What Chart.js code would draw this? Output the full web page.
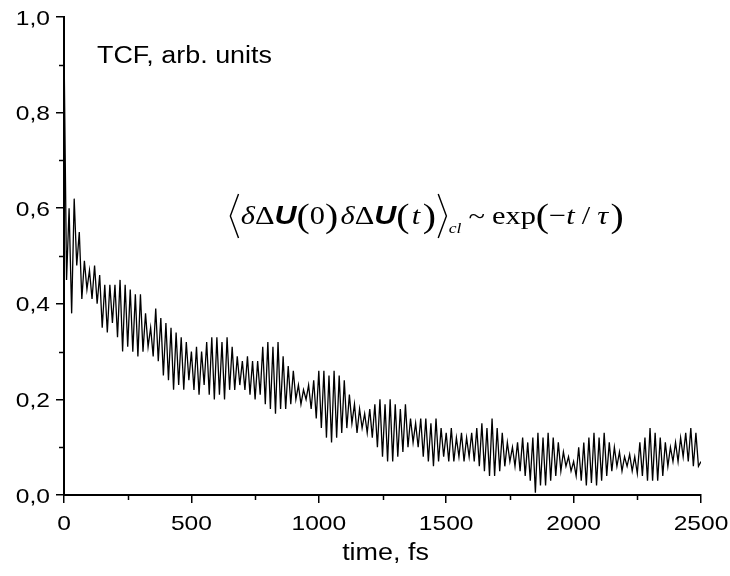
<!DOCTYPE html>
<html>
<head>
<meta charset="utf-8">
<script src="https://cdn.jsdelivr.net/npm/chart.js@4"></script>
<style>
  body { margin: 0; background: #fff; }
  #wrap { width: 730px; height: 576px; }
</style>
</head>
<body>
<div id="wrap"><canvas id="tcfChart" width="730" height="576"></canvas></div>
<script>
const timeStep = 10;
const tcf = [
    0.94, 0.45, 0.60, 0.38, 0.62, 0.48, 0.55, 0.41, 0.49, 0.43,
    0.47, 0.41, 0.48, 0.40, 0.46, 0.35, 0.44, 0.34, 0.44, 0.36,
    0.44, 0.33, 0.45, 0.30, 0.44, 0.31, 0.43, 0.30, 0.42, 0.29,
    0.42, 0.30, 0.38, 0.31, 0.35, 0.29, 0.39, 0.28, 0.37, 0.25,
    0.36, 0.24, 0.35, 0.22, 0.34, 0.23, 0.33, 0.22, 0.32, 0.24,
    0.30, 0.22, 0.31, 0.21, 0.30, 0.23, 0.32, 0.21, 0.33, 0.20,
    0.33, 0.21, 0.32, 0.20, 0.33, 0.22, 0.31, 0.22, 0.29, 0.23,
    0.28, 0.22, 0.29, 0.21, 0.28, 0.20, 0.28, 0.21, 0.31, 0.19,
    0.32, 0.18, 0.31, 0.17, 0.32, 0.18, 0.29, 0.18, 0.27, 0.19,
    0.26, 0.20, 0.23, 0.19, 0.22, 0.20, 0.23, 0.18, 0.24, 0.16,
    0.26, 0.14, 0.26, 0.12, 0.25, 0.11, 0.26, 0.12, 0.25, 0.13,
    0.24, 0.14, 0.21, 0.15, 0.19, 0.13, 0.18, 0.14, 0.17, 0.13,
    0.18, 0.12, 0.19, 0.10, 0.20, 0.08, 0.19, 0.07, 0.20, 0.07,
    0.19, 0.08, 0.18, 0.09, 0.19, 0.10, 0.16, 0.11, 0.15, 0.10,
    0.16, 0.08, 0.16, 0.07, 0.15, 0.06, 0.16, 0.07, 0.14, 0.08,
    0.13, 0.07, 0.14, 0.07, 0.12, 0.08, 0.13, 0.07, 0.12, 0.08,
    0.13, 0.07, 0.14, 0.06, 0.15, 0.05, 0.14, 0.04, 0.16, 0.04,
    0.14, 0.05, 0.13, 0.06, 0.11, 0.07, 0.10, 0.06, 0.11, 0.05,
    0.12, 0.04, 0.11, 0.03, 0.12, 0.005, 0.13, 0.02, 0.12, 0.02,
    0.13, 0.03, 0.12, 0.04, 0.11, 0.05, 0.09, 0.06, 0.08, 0.05,
    0.07, 0.04, 0.10, 0.03, 0.11, 0.02, 0.12, 0.025, 0.13, 0.02,
    0.12, 0.03, 0.13, 0.04, 0.11, 0.05, 0.10, 0.06, 0.09, 0.05,
    0.08, 0.06, 0.085, 0.05, 0.08, 0.045, 0.11, 0.04, 0.12, 0.03,
    0.14, 0.03, 0.13, 0.03, 0.12, 0.04, 0.11, 0.06, 0.10, 0.07,
    0.11, 0.07, 0.12, 0.08, 0.13, 0.07, 0.14, 0.06, 0.13, 0.06,
    0.07
];
const times = tcf.map((_, i) => i * timeStep);
const xTickLabels = [0, 500, 1000, 1500, 2000, 2500];
const yTickValues = [0, 0.2, 0.4, 0.6, 0.8, 1.0];
const yTickLabels = ['0,0', '0,2', '0,4', '0,6', '0,8', '1,0'];

const sans = 'Arial, "Liberation Sans", sans-serif';
const serif = '"Times New Roman", "Liberation Serif", serif';
const stretch = 1.17; // the original lettering is a bit wide

function isMajorX(v) { return xTickLabels.includes(Math.round(v)); }
function isMajorY(v) { return Math.round(v * 10) % 2 === 0; }

function wideText(ctx, text, x, y, align, font) {
    ctx.save();
    ctx.font = font;
    ctx.textAlign = align;
    ctx.translate(x, y);
    ctx.scale(stretch, 1);
    ctx.fillText(text, 0, 0);
    ctx.restore();
}

// minor ticks are shorter than the major ones
const minorTicks = {
    id: 'minorTicks',
    afterDraw(chart) {
        const ctx = chart.ctx;
        const xs = chart.scales.x, ys = chart.scales.y;
        ctx.save();
        ctx.strokeStyle = '#000';
        ctx.lineWidth = 1.5;
        for (let v = 250; v < 2500; v += 500) {
            const px = Math.round(xs.getPixelForValue(v)) + 0.5;
            ctx.beginPath();
            ctx.moveTo(px, ys.bottom);
            ctx.lineTo(px, ys.bottom + 5);
            ctx.stroke();
        }
        for (let v = 0.1; v < 1; v += 0.2) {
            const py = Math.round(ys.getPixelForValue(v)) + 0.5;
            ctx.beginPath();
            ctx.moveTo(xs.left, py);
            ctx.lineTo(xs.left - 5, py);
            ctx.stroke();
        }
        ctx.restore();
    }
};

// tick labels and axis title
const axisText = {
    id: 'axisText',
    afterDraw(chart) {
        const ctx = chart.ctx;
        const xs = chart.scales.x, ys = chart.scales.y;
        ctx.save();
        ctx.fillStyle = '#000';
        ctx.textBaseline = 'alphabetic';
        const tickFont = `21px ${sans}`;
        xTickLabels.forEach(v => {
            wideText(ctx, String(v), xs.getPixelForValue(v), ys.bottom + 35, 'center', tickFont);
        });
        yTickValues.forEach((v, i) => {
            wideText(ctx, yTickLabels[i], xs.left - 14, ys.getPixelForValue(v) + 7.5, 'right', tickFont);
        });
        wideText(ctx, 'time, fs', (xs.left + xs.right) / 2 + 3, ys.bottom + 65, 'center', `23px ${sans}`);
        ctx.restore();
    }
};

function drawPieces(ctx, x, baseline, pieces) {
    pieces.forEach(p => {
        if (p.bracket) {
            ctx.save();
            ctx.lineWidth = 1.2;
            ctx.beginPath();
            const dir = p.bracket === 'left' ? 1 : -1;
            const x0 = p.bracket === 'left' ? x + 2 : x + 9;
            ctx.moveTo(x0 + dir * 7, baseline - 30);
            ctx.lineTo(x0, baseline - 8);
            ctx.lineTo(x0 + dir * 7, baseline + 14);
            ctx.stroke();
            ctx.restore();
            x += 11;
            return;
        }
        ctx.font = p.font;
        ctx.fillText(p.text, x, baseline + (p.dy || 0));
        x += ctx.measureText(p.text).width + (p.gap || 0);
    });
}

const annotations = {
    id: 'annotations',
    afterDraw(chart) {
        const ctx = chart.ctx;
        ctx.save();
        ctx.fillStyle = '#000';
        ctx.strokeStyle = '#000';
        ctx.textBaseline = 'alphabetic';
        wideText(ctx, 'TCF, arb. units', 97, 63, 'left', `23px ${sans}`);

        const s = 26;
        const it = `italic ${s}px ${serif}`;
        const up = `${s}px ${serif}`;
        const bi = `italic bold ${s}px ${sans}`;
        const par = `${Math.round(s * 1.3)}px ${serif}`;
        ctx.translate(228, 0);
        ctx.scale(stretch, 1);
        drawPieces(ctx, 0, 224, [
            { bracket: 'left' },
            { text: 'δ', font: it },
            { text: 'Δ', font: up },
            { text: 'U', font: bi },
            { text: '(', font: par, dy: 3 },
            { text: '0', font: up },
            { text: ')', font: par, dy: 3, gap: 2 },
            { text: 'δ', font: it },
            { text: 'Δ', font: up },
            { text: 'U', font: bi },
            { text: '(', font: par, dy: 3, gap: 2 },
            { text: 't', font: it, gap: 2 },
            { text: ')', font: par, dy: 3 },
            { bracket: 'right' },
            { text: 'cl', font: `italic 15px ${serif}`, dy: 9, gap: 6 },
            { text: '~', font: up, gap: 6 },
            { text: 'exp', font: up },
            { text: '(', font: par, dy: 3 },
            { text: '−', font: up },
            { text: 't', font: it, gap: 6 },
            { text: '/', font: up, gap: 6 },
            { text: 'τ', font: it, gap: 2 },
            { text: ')', font: par, dy: 3 }
        ]);
        ctx.restore();
    }
};

new Chart(document.getElementById('tcfChart'), {
    type: 'line',
    data: {
        datasets: [{
            data: times.map((t, i) => ({ x: t, y: tcf[i] })),
            borderColor: '#000',
            borderWidth: 1.3,
            pointRadius: 0,
            tension: 0,
            fill: false
        }]
    },
    options: {
        responsive: false,
        animation: false,
        events: [],
        layout: { padding: { top: 17, right: 29, left: 0, bottom: 0 } },
        plugins: { legend: { display: false }, tooltip: { enabled: false } },
        scales: {
            x: {
                type: 'linear',
                min: 0,
                max: 2500,
                border: { display: true, color: '#000', width: 2 },
                grid: {
                    drawOnChartArea: false,
                    tickLength: 8,
                    lineWidth: 1.5,
                    color: c => isMajorX(c.tick.value) ? '#000' : 'rgba(0,0,0,0)'
                },
                ticks: { stepSize: 250, autoSkip: false, display: false },
                afterFit: s => { s.height = 81; }
            },
            y: {
                min: 0,
                max: 1,
                border: { display: true, color: '#000', width: 2 },
                grid: {
                    drawOnChartArea: false,
                    tickLength: 8,
                    lineWidth: 1.5,
                    color: c => isMajorY(c.tick.value) ? '#000' : 'rgba(0,0,0,0)'
                },
                ticks: { stepSize: 0.1, autoSkip: false, display: false },
                afterFit: s => { s.width = 64; }
            }
        }
    },
    plugins: [minorTicks, axisText, annotations]
});
</script>
</body>
</html>
